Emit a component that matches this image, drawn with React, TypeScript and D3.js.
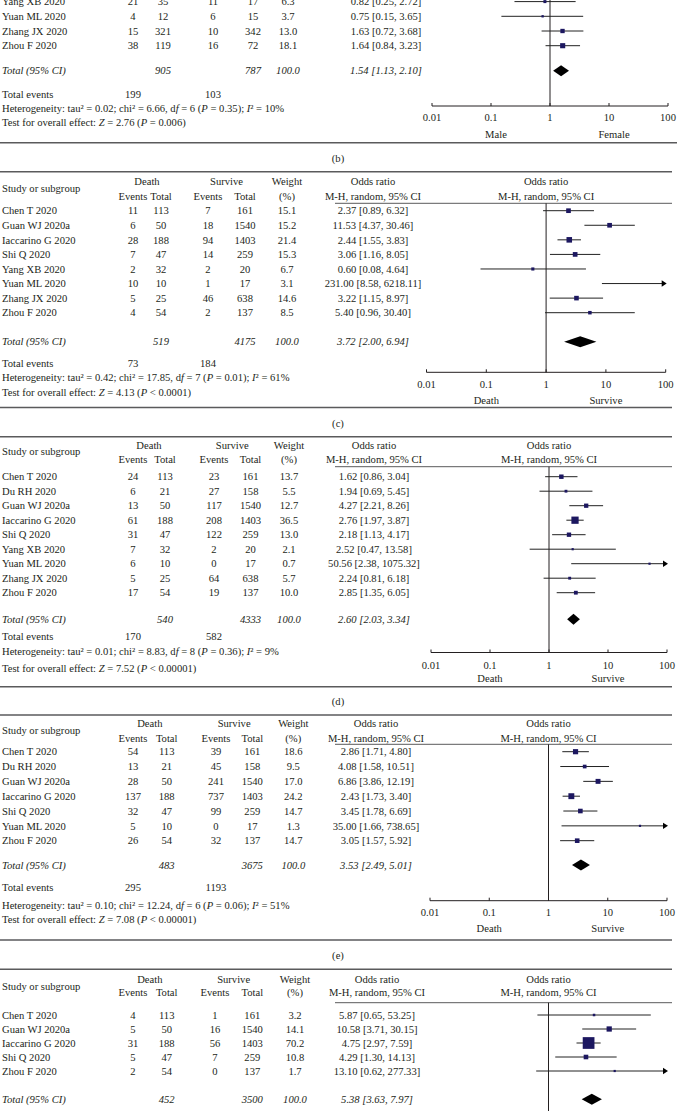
import React from 'react';
import * as d3 from 'd3';

// ---------------- DATA ----------------
// Panel (b) – only the visible (bottom) rows
const bStudies = ['Yang XB 2020', 'Yuan ML 2020', 'Zhang JX 2020', 'Zhou F 2020'];
const bEvents1 = [21, 4, 15, 38];
const bTotal1 = [35, 12, 321, 119];
const bEvents2 = [11, 6, 10, 16];
const bTotal2 = [17, 15, 342, 72];
const bWeight = [6.3, 3.7, 13.0, 18.1];
const bOR = [0.82, 0.75, 1.63, 1.64];
const bLower = [0.25, 0.15, 0.72, 0.84];
const bUpper = [2.72, 3.65, 3.68, 3.23];
const bSums = [905, 787];
const bPooled = [1.54, 1.13, 2.1];
const bTotalEvents = [199, 103];
const bHet = ['0.02', '6.66', '6', '= 0.35', '10'];
const bTest = ['2.76', '= 0.006'];
const bDirections = ['Male', 'Female'];

// Panel (c)
const cStudies = ['Chen T 2020', 'Guan WJ 2020a', 'Iaccarino G 2020', 'Shi Q 2020', 'Yang XB 2020', 'Yuan ML 2020', 'Zhang JX 2020', 'Zhou F 2020'];
const cEvents1 = [11, 6, 28, 7, 2, 10, 5, 4];
const cTotal1 = [113, 50, 188, 47, 32, 10, 25, 54];
const cEvents2 = [7, 18, 94, 14, 2, 1, 46, 2];
const cTotal2 = [161, 1540, 1403, 259, 20, 17, 638, 137];
const cWeight = [15.1, 15.2, 21.4, 15.3, 6.7, 3.1, 14.6, 8.5];
const cOR = [2.37, 11.53, 2.44, 3.06, 0.6, 231.0, 3.22, 5.4];
const cLower = [0.89, 4.37, 1.55, 1.16, 0.08, 8.58, 1.15, 0.96];
const cUpper = [6.32, 30.46, 3.83, 8.05, 4.64, 6218.11, 8.97, 30.4];
const cSums = [519, 4175];
const cPooled = [3.72, 2.0, 6.94];
const cTotalEvents = [73, 184];
const cHet = ['0.42', '17.85', '7', '= 0.01', '61'];
const cTest = ['4.13', '< 0.0001'];

// Panel (d)
const dStudies = ['Chen T 2020', 'Du RH 2020', 'Guan WJ 2020a', 'Iaccarino G 2020', 'Shi Q 2020', 'Yang XB 2020', 'Yuan ML 2020', 'Zhang JX 2020', 'Zhou F 2020'];
const dEvents1 = [24, 6, 13, 61, 31, 7, 6, 5, 17];
const dTotal1 = [113, 21, 50, 188, 47, 32, 10, 25, 54];
const dEvents2 = [23, 27, 117, 208, 122, 2, 0, 64, 19];
const dTotal2 = [161, 158, 1540, 1403, 259, 20, 17, 638, 137];
const dWeight = [13.7, 5.5, 12.7, 36.5, 13.0, 2.1, 0.7, 5.7, 10.0];
const dOR = [1.62, 1.94, 4.27, 2.76, 2.18, 2.52, 50.56, 2.24, 2.85];
const dLower = [0.86, 0.69, 2.21, 1.97, 1.13, 0.47, 2.38, 0.81, 1.35];
const dUpper = [3.04, 5.45, 8.26, 3.87, 4.17, 13.58, 1075.32, 6.18, 6.05];
const dSums = [540, 4333];
const dPooled = [2.6, 2.03, 3.34];
const dTotalEvents = [170, 582];
const dHet = ['0.01', '8.83', '8', '= 0.36', '9'];
const dTest = ['7.52', '< 0.00001'];

// Panel (e)
const eStudies = ['Chen T 2020', 'Du RH 2020', 'Guan WJ 2020a', 'Iaccarino G 2020', 'Shi Q 2020', 'Yuan ML 2020', 'Zhou F 2020'];
const eEvents1 = [54, 13, 28, 137, 32, 5, 26];
const eTotal1 = [113, 21, 50, 188, 47, 10, 54];
const eEvents2 = [39, 45, 241, 737, 99, 0, 32];
const eTotal2 = [161, 158, 1540, 1403, 259, 17, 137];
const eWeight = [18.6, 9.5, 17.0, 24.2, 14.7, 1.3, 14.7];
const eOR = [2.86, 4.08, 6.86, 2.43, 3.45, 35.0, 3.05];
const eLower = [1.71, 1.58, 3.86, 1.73, 1.78, 1.66, 1.57];
const eUpper = [4.8, 10.51, 12.19, 3.4, 6.69, 738.65, 5.92];
const eSums = [483, 3675];
const ePooled = [3.53, 2.49, 5.01];
const eTotalEvents = [295, 1193];
const eHet = ['0.10', '12.24', '6', '= 0.06', '51'];
const eTest = ['7.08', '< 0.00001'];

// Panel (f) – bottom part cut off
const fStudies = ['Chen T 2020', 'Guan WJ 2020a', 'Iaccarino G 2020', 'Shi Q 2020', 'Zhou F 2020'];
const fEvents1 = [4, 5, 31, 5, 2];
const fTotal1 = [113, 50, 188, 47, 54];
const fEvents2 = [1, 16, 56, 7, 0];
const fTotal2 = [161, 1540, 1403, 259, 137];
const fWeight = [3.2, 14.1, 70.2, 10.8, 1.7];
const fOR = [5.87, 10.58, 4.75, 4.29, 13.1];
const fLower = [0.65, 3.71, 2.97, 1.3, 0.62];
const fUpper = [53.25, 30.15, 7.59, 14.13, 277.33];
const fSums = [452, 3500];
const fPooled = [5.38, 3.63, 7.97];

const groupLabels = ['Death', 'Survive'];
const tickValues = [0.01, 0.1, 1, 10, 100];
const tickLabels = ['0.01', '0.1', '1', '10', '100'];

// ---------------- STYLE ----------------
const FONT = '"Liberation Serif", "Times New Roman", serif';
const FS = 10.6;
const TEXT = '#231f20';
const SQUARE = '#1c1760';
const RULE = '#5a5a5c';
const W = 677;
const H = 1111;

type Panel = {
  studies: string[]; e1: number[]; n1: number[]; e2: number[]; n2: number[];
  w: number[]; or: number[]; lo: number[]; hi: number[];
  sums: number[]; pooled: number[]; totalEvents?: number[]; het?: string[]; test?: string[];
  directions?: string[]; caption?: string; header: boolean;
  L: any;
};

const fmt = (v: number) => v.toFixed(2);
const ciText = (o: number, l: number, h: number) => `${fmt(o)} [${fmt(l)}, ${fmt(h)}]`;

function T(props: any) {
  const { x, y, anchor = 'middle', italic = false, children, size = FS } = props;
  return (
    <text x={x} y={y} dy="0.35em" textAnchor={anchor} fontStyle={italic ? 'italic' : 'normal'}
      fontFamily={FONT} fontSize={size} fill={TEXT}>{children}</text>
  );
}

function Parts({ x, y, parts }: { x: number; y: number; parts: [string, boolean][] }) {
  return (
    <text x={x} y={y} dy="0.35em" fontFamily={FONT} fontSize={FS} fill={TEXT}>
      {parts.map((p, i) => (
        <tspan key={i} fontStyle={p[1] ? 'italic' : 'normal'}>{p[0]}</tspan>
      ))}
    </text>
  );
}

function ForestPanel({ p }: { p: Panel }) {
  const L = p.L;
  const x = d3.scaleLog().domain([0.01, 100]).range([L.x0, L.x1]);
  const rowY = (i: number) => L.row0 + i * L.step;
  const xOne = x(1);
  const vTop = p.header ? L.headRule : -5;
  return (
    <g>
      {p.header && (
        <g>
          <line x1={0} x2={L.right} y1={L.topRule} y2={L.topRule} stroke={RULE} strokeWidth={1.6} />
          <T x={L.nameX} y={L.study} anchor="start">Study or subgroup</T>
          <T x={(L.c1 + L.c2) / 2} y={L.head1}>{groupLabels[0]}</T>
          <T x={(L.c3 + L.c4) / 2} y={L.head1}>{groupLabels[1]}</T>
          <T x={L.c1} y={L.head2}>Events</T>
          <T x={L.c2} y={L.head2}>Total</T>
          <T x={L.c3} y={L.head2}>Events</T>
          <T x={L.c4} y={L.head2}>Total</T>
          <T x={L.cw} y={L.head1}>Weight</T>
          <T x={L.cw} y={L.head2}>(%)</T>
          <T x={L.cor} y={L.head1}>Odds ratio</T>
          <T x={L.cor} y={L.head2}>M-H, random, 95% CI</T>
          <T x={xOne} y={L.head1}>Odds ratio</T>
          <T x={xOne} y={L.head2}>M-H, random, 95% CI</T>
          <line x1={L.headRuleX} x2={L.right} y1={L.headRule} y2={L.headRule} stroke={RULE} strokeWidth={1} />
        </g>
      )}
      {/* line of no effect */}
      <line x1={xOne} x2={xOne} y1={vTop} y2={L.axis ?? H + 5} stroke={TEXT} strokeWidth={1} />
      {p.studies.map((s, i) => {
        const y = rowY(i);
        const lo = Math.max(p.lo[i], 0.01);
        const hiClip = p.hi[i] > 100;
        const hi = Math.min(p.hi[i], 100);
        const size = Math.max(2.2, L.k * Math.sqrt(p.w[i]));
        const showSq = p.or[i] <= 100 && p.or[i] >= 0.01;
        return (
          <g key={s}>
            <T x={L.nameX} y={y} anchor="start">{s}</T>
            <T x={L.c1} y={y}>{p.e1[i]}</T>
            <T x={L.c2} y={y}>{p.n1[i]}</T>
            <T x={L.c3} y={y}>{p.e2[i]}</T>
            <T x={L.c4} y={y}>{p.n2[i]}</T>
            <T x={L.cw} y={y}>{p.w[i].toFixed(1)}</T>
            <T x={L.cor} y={y}>{ciText(p.or[i], p.lo[i], p.hi[i])}</T>
            <line x1={x(lo)} x2={hiClip ? x(hi) - 3 : x(hi)} y1={y} y2={y} stroke="#222" strokeWidth={1} />
            {hiClip && (
              <polygon points={`${x(hi) - 4},${y - 3.2} ${x(hi) + 1},${y} ${x(hi) - 4},${y + 3.2}`} fill="#000" />
            )}
            {showSq && (
              <rect x={x(p.or[i]) - size / 2} y={y - size / 2} width={size} height={size} fill={SQUARE} />
            )}
          </g>
        );
      })}
      {/* total row */}
      <T x={L.nameX} y={L.total} anchor="start" italic>Total (95% CI)</T>
      <T x={L.c2} y={L.total} italic>{p.sums[0]}</T>
      <T x={L.c4} y={L.total} italic>{p.sums[1]}</T>
      <T x={L.cw} y={L.total} italic>100.0</T>
      <T x={L.cor} y={L.total} italic>{ciText(p.pooled[0], p.pooled[1], p.pooled[2])}</T>
      <polygon
        points={`${x(p.pooled[1])},${L.total} ${x(p.pooled[0])},${L.total - L.dh / 2} ${x(p.pooled[2])},${L.total} ${x(p.pooled[0])},${L.total + L.dh / 2}`}
        fill="#000" />
      {p.totalEvents && (
        <g>
          <T x={L.nameX} y={L.totalEvents} anchor="start">Total events</T>
          <T x={L.c1} y={L.totalEvents}>{p.totalEvents[0]}</T>
          <T x={L.c3} y={L.totalEvents}>{p.totalEvents[1]}</T>
        </g>
      )}
      {p.het && (
        <Parts x={L.nameX} y={L.het} parts={[
          [`Heterogeneity: tau² = ${p.het[0]}; chi² = ${p.het[1]}, d`, false], ['f', true],
          [` = ${p.het[2]} (`, false], ['P', true], [` ${p.het[3]}); `, false], ['I', true],
          [`² = ${p.het[4]}%`, false]]} />
      )}
      {p.test && (
        <Parts x={L.nameX} y={L.test} parts={[
          ['Test for overall effect: ', false], ['Z', true], [` = ${p.test[0]} (`, false], ['P', true],
          [` ${p.test[1]})`, false]]} />
      )}
      {L.axis !== undefined && (
        <g>
          <line x1={L.x0} x2={L.x1} y1={L.axis} y2={L.axis} stroke={TEXT} strokeWidth={1} />
          {tickValues.map((t, i) => (
            <g key={t}>
              <line x1={x(t)} x2={x(t)} y1={L.axis} y2={L.axis - 3} stroke={TEXT} strokeWidth={1} />
              <T x={x(t)} y={L.tickLab}>{tickLabels[i]}</T>
            </g>
          ))}
          {p.directions && (
            <g>
              <T x={x(0.1) + L.dirOff} y={L.dir}>{p.directions[0]}</T>
              <T x={x(10) + L.dirOff} y={L.dir}>{p.directions[1]}</T>
            </g>
          )}
          <line x1={0} x2={L.right} y1={L.bottomRule} y2={L.bottomRule} stroke={RULE} strokeWidth={1.6} />
          {p.caption && <T x={338} y={L.caption}>{p.caption}</T>}
        </g>
      )}
    </g>
  );
}

const panels: Panel[] = [
  {
    studies: bStudies, e1: bEvents1, n1: bTotal1, e2: bEvents2, n2: bTotal2, w: bWeight, or: bOR, lo: bLower, hi: bUpper,
    sums: bSums, pooled: bPooled, totalEvents: bTotalEvents, het: bHet, test: bTest, directions: bDirections,
    caption: '(b)', header: false,
    L: { nameX: 2, c1: 133, c2: 163, c3: 213, c4: 253, cw: 288, cor: 386, x0: 432, x1: 668, k: 1.2, dh: 11,
      row0: 1.6, step: 14.7, total: 70.7, totalEvents: 94.3, het: 108.3, test: 122.3, axis: 106, tickLab: 117.3,
      dir: 134, dirOff: 5, bottomRule: 142.7, caption: 158.3, right: 677 },
  },
  {
    studies: cStudies, e1: cEvents1, n1: cTotal1, e2: cEvents2, n2: cTotal2, w: cWeight, or: cOR, lo: cLower, hi: cUpper,
    sums: cSums, pooled: cPooled, totalEvents: cTotalEvents, het: cHet, test: cTest, directions: groupLabels,
    caption: '(c)', header: true,
    L: { nameX: 2, c1: 133, c2: 161, c3: 208, c4: 245, cw: 287, cor: 373, x0: 426.5, x1: 665.7, k: 1.2, dh: 11,
      topRule: 171.7, head1: 181, study: 188.3, head2: 196, headRule: 203.3, headRuleX: 335,
      row0: 210.7, step: 14.57, total: 341.7, totalEvents: 363.5, het: 377.5, test: 392.5, axis: 372.3, tickLab: 384.5,
      dir: 400.3, dirOff: 0, bottomRule: 407.5, caption: 423, right: 672 },
  },
  {
    studies: dStudies, e1: dEvents1, n1: dTotal1, e2: dEvents2, n2: dTotal2, w: dWeight, or: dOR, lo: dLower, hi: dUpper,
    sums: dSums, pooled: dPooled, totalEvents: dTotalEvents, het: dHet, test: dTest, directions: groupLabels,
    caption: '(d)', header: true,
    L: { nameX: 2, c1: 133, c2: 165, c3: 214, c4: 250.5, cw: 289, cor: 374, x0: 431, x1: 667, k: 1.2, dh: 11,
      topRule: 436.7, head1: 445, study: 451.7, head2: 459.3, headRule: 466.7, headRuleX: 335,
      row0: 476.7, step: 14.5, total: 619.3, totalEvents: 636.7, het: 651, test: 668.3, axis: 652.5, tickLab: 665,
      dir: 678.3, dirOff: 0, bottomRule: 686.7, caption: 701, right: 672 },
  },
  {
    studies: eStudies, e1: eEvents1, n1: eTotal1, e2: eEvents2, n2: eTotal2, w: eWeight, or: eOR, lo: eLower, hi: eUpper,
    sums: eSums, pooled: ePooled, totalEvents: eTotalEvents, het: eHet, test: eTest, directions: groupLabels,
    caption: '(e)', header: true,
    L: { nameX: 2, c1: 133, c2: 166.7, c3: 216, c4: 252.3, cw: 293.3, cor: 376, x0: 430, x1: 667, k: 1.2, dh: 11,
      topRule: 715, head1: 723.3, study: 730, head2: 738.3, headRule: 744.3, headRuleX: 335,
      row0: 751.7, step: 14.83, total: 865, totalEvents: 887.3, het: 905, test: 919, axis: 900.7, tickLab: 912.3,
      dir: 928.3, dirOff: 0, bottomRule: 940, caption: 955, right: 672 },
  },
  {
    studies: fStudies, e1: fEvents1, n1: fTotal1, e2: fEvents2, n2: fTotal2, w: fWeight, or: fOR, lo: fLower, hi: fUpper,
    sums: fSums, pooled: fPooled, header: true,
    L: { nameX: 2, c1: 133, c2: 166.7, c3: 215, c4: 252.3, cw: 295, cor: 377, x0: 430, x1: 667, k: 1.4, dh: 11,
      topRule: 969.3, head1: 979.3, study: 986, head2: 992.7, headRule: 1002.7, headRuleX: 335,
      row0: 1015, step: 14, total: 1099.3, right: 672 },
  },
];

export default function App() {
  return (
    <svg width={W} height={H} viewBox={`0 0 ${W} ${H}`}
      style={{ position: 'absolute', left: 0, top: 0, background: '#fff' }}>
      <rect x={0} y={0} width={W} height={H} fill="#fff" />
      {panels.map((p, i) => <ForestPanel key={i} p={p} />)}
    </svg>
  );
}
